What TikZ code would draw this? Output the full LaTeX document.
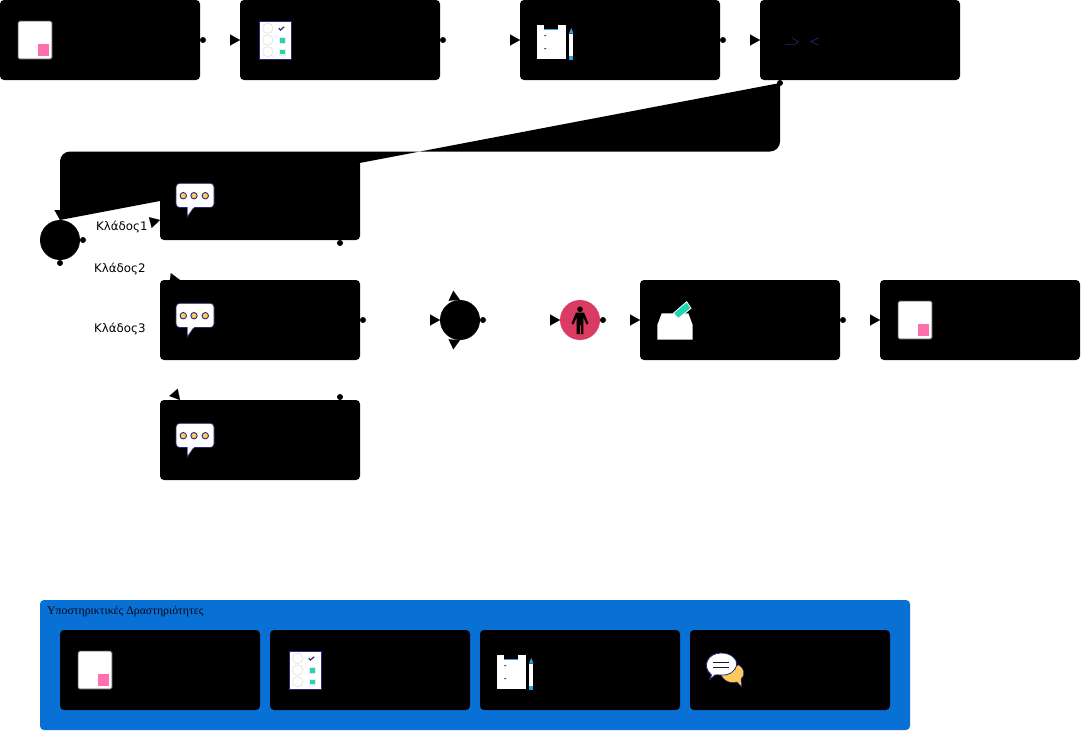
\documentclass[tikz,border=0pt]{standalone}
\usepackage{fontspec}
\setmainfont{Liberation Serif}
\newfontfamily\labelfont{DejaVu Sans}
\usetikzlibrary{calc,arrows.meta}
\definecolor{navyline}{HTML}{2A2A7A}
\definecolor{doccol}{HTML}{FF6FAE}
\definecolor{tealcol}{HTML}{1FD6B0}
\definecolor{skycol}{HTML}{2AA7DC}
\definecolor{sunny}{HTML}{FFC95C}
\definecolor{bandblue}{HTML}{0971D6}
\definecolor{eventpink}{HTML}{DB3A63}
\tikzset{
  taskbox/.style={fill=black,rounded corners=4pt,minimum width=200pt,minimum height=80pt,inner sep=0pt,outer sep=0pt},
  gate/.style={circle,fill=black,minimum size=40pt,inner sep=0pt,outer sep=0pt},
  branchlabel/.style={inner sep=0pt,font=\labelfont\fontsize{11.8}{14}\selectfont},
  linkdot/.style={fill=black},
  linktip/.style={draw=black,line width=0.01pt,-{Triangle[length=10pt,width=11pt]}}
}
% connector: dot at the start, arrow head at the end, line itself not visible
\newcommand{\linkboth}[2]{%
  \fill[linkdot] #1 circle (3pt);
  \draw[linktip] ($#2!10pt!#1$) -- #2;}
\newcommand{\docicon}[1]{\begin{scope}[shift={(#1)}]
  \filldraw[fill=white,draw=black!70,line width=.7pt,rounded corners=1.5pt] (18,21) rectangle (52,59);
  \fill[doccol] (37.5,44) rectangle (49.3,56);
\end{scope}}
\newcommand{\checkicon}[1]{\begin{scope}[shift={(#1)}]
  \filldraw[fill=white,draw=navyline,line width=1pt] (19,21) rectangle (51.5,59);
  \foreach \y in {28.3,40,51.7}{\draw[black!12,line width=.6pt] (27.7,\y) circle (5.2);}
  \draw[navyline,line width=1.2pt] (38.8,28.3) -- (40.5,30) -- (44.2,26.8);
  \foreach \y in {40.3,52}{\fill[black!8] (38.5,\y-3.5) rectangle (45.5,\y+3.5);\fill[tealcol] (39.5,\y-2.4) rectangle (45.4,\y+2.4);}
\end{scope}}
\newcommand{\clipicon}[1]{\begin{scope}[shift={(#1)}]
  \fill[white] (16.7,25) rectangle (45.7,59.3);
  \fill[black] (24.3,25) rectangle (38.3,29);
  \fill[skycol] (24.3,29) rectangle (38.3,30.3);
  \draw[black!80,line width=.6pt] (24.2,35.5) -- (25,36) -- (26.2,35);
  \draw[black!80,line width=.6pt] (24.2,48.5) -- (25,49) -- (26.2,48);
  \fill[skycol] (49,33.5) -- (51.2,28) -- (53.4,33.5) -- cycle;
  \fill[white] (49,33.5) rectangle (53.4,56);
  \fill[skycol] (49,56) rectangle (53.4,59.5);
\end{scope}}
\newcommand{\bubbleicon}[1]{\begin{scope}[shift={(#1)}]
  \filldraw[fill=white,draw=navyline,line width=.8pt,rounded corners=3.5pt] (16,23.3) rectangle (54,47.5);
  \filldraw[fill=white,draw=navyline,line width=.8pt] (27.2,47.3) -- (27.2,57) -- (34,47.3);
  \fill[white] (27.6,46.5) rectangle (33.5,48);
  \foreach \x in {23.3,34,45.3}{\filldraw[fill=sunny,draw=navyline,line width=.9pt] (\x,35.7) circle (3.2pt);}
\end{scope}}
\newcommand{\chaticon}[1]{\begin{scope}[shift={(#1)}]
  \filldraw[fill=sunny,draw=navyline,line width=.5pt] (29,40) .. controls (33,54) and (43,53) .. (47,52) -- (51.7,57) -- (51,49) .. controls (56,45) and (54,38) .. (49,35) -- cycle;
  \filldraw[fill=white,draw=navyline,line width=.8pt] (19.5,49.5) -- (21.5,45) .. controls (11,36) and (18,23) .. (31,23) .. controls (41,23) and (47,29) .. (46.7,34) .. controls (46,42) and (38,46) .. (31,45) .. controls (28,45) and (26,44.5) .. (25,45) -- cycle;
  \draw[black!50!navyline,line width=1pt] (23,32.7) -- (39,32.7) (23,37.7) -- (39,37.7);
\end{scope}}
\begin{document}
\begin{tikzpicture}[x=1pt,y=-1pt]
\useasboundingbox (0,0) rectangle (1082,732);
\fill[white] (0,0) rectangle (1082,732);

% support band
\fill[bandblue,rounded corners=4pt] (40,600) rectangle (910,730);
\node[anchor=west,inner sep=0pt,text=black!85!navyline,font=\fontsize{11.8}{14}\selectfont] (bandtitle) at (47,611.2) {Υποστηρικτικές Δραστηριότητες};

% task boxes
\node[taskbox] (t1) at (100,40) {};
\node[taskbox] (t2) at (340,40) {};
\node[taskbox] (t3) at (620,40) {};
\node[taskbox] (t4) at (860,40) {};
\node[taskbox] (b1) at (260,200) {};
\node[taskbox] (b2) at (260,320) {};
\node[taskbox] (b3) at (260,440) {};
\node[taskbox] (t5) at (740,320) {};
\node[taskbox] (t6) at (980,320) {};
\node[taskbox] (s1) at (160,670) {};
\node[taskbox] (s2) at (370,670) {};
\node[taskbox] (s3) at (580,670) {};
\node[taskbox] (s4) at (790,670) {};

% gateways and event
\node[gate] (g1) at (60,240) {};
\node[gate] (g2) at (460,320) {};
\node[gate,fill=eventpink] (ev) at (580,320) {};

% filled return connector
\fill[black,rounded corners=10pt] ($(t4.south west)+(20,3)$) -- (780,151.5) -- (60,151.5) -- (g1.north);

% connectors
\fill[linkdot] ($(t4.south west)+(20,3)$) circle (3pt);
\linkboth{($(t1.east)+(3,0)$)}{(t2.west)}
\linkboth{($(t2.east)+(3,0)$)}{(t3.west)}
\linkboth{($(t3.east)+(3,0)$)}{(t4.west)}
\linkboth{($(b2.east)+(3,0)$)}{(g2.west)}
\linkboth{($(b1.south east)+(-20,3)$)}{(g2.north)}
\linkboth{($(b3.north east)+(-20,-3)$)}{(g2.south)}
\linkboth{($(g2.east)+(3,0)$)}{(ev.west)}
\linkboth{($(ev.east)+(3,0)$)}{(t5.west)}
\linkboth{($(t5.east)+(3,0)$)}{(t6.west)}
\draw[linktip] ($(g1.north)+(0,-10)$) -- (g1.north);
\linkboth{($(g1.east)+(3,0)$)}{($(b1.west)+(0,20)$)}
\linkboth{($(g1.south)+(0,3)$)}{($(b2.north west)+(20,0)$)}
\draw[linktip] ($($(b3.north west)+(20,0)$)!10pt!(g1.south)$) -- ($(b3.north west)+(20,0)$);

% branch labels
\node[branchlabel,anchor=west] (l1) at (96,227.2) {Κλάδος1};
\node[branchlabel,anchor=west] (l2) at (94,269.2) {Κλάδος2};
\node[branchlabel,anchor=west] (l3) at (94,329.2) {Κλάδος3};

% icons
\docicon{0,0}
\checkicon{240,0}
\clipicon{520,0}
\draw[navyline,line width=.6pt] (785,44.3) -- (795,44.3) -- (798.3,41.7) -- (791.7,37.7);
\draw[navyline,line width=.6pt] (819.3,37.7) -- (810.7,41.7) -- (818.3,45);
\bubbleicon{160,160}
\bubbleicon{160,280}
\bubbleicon{160,400}
\docicon{880,280}
\docicon{60,630}
\checkicon{270,630}
\clipicon{480,630}
\chaticon{690,630}

% person in event
\fill[black] (580,309.3) circle (2.8);
\fill[black] (576,312.5) -- (584,312.5) -- (588.5,323.5) -- (586.5,324.5) -- (583.3,317) -- (583.3,334) -- (576.7,334) -- (576.7,317) -- (573.5,324.5) -- (571.5,323.5) -- cycle;
\fill[eventpink!70!red] (579.6,325) rectangle (580.6,334);

% ballot box
\fill[white] (657.3,325) -- (661.7,313.3) -- (688.3,313.3) -- (692.7,325) -- (692.7,339.5) -- (657.3,339.5) -- cycle;
\filldraw[fill=tealcol,draw=white,line width=.8pt] (673.3,313.3) -- (686.7,301.7) -- (691,308.3) -- (678.3,318.3) -- cycle;
\end{tikzpicture}
\end{document}
